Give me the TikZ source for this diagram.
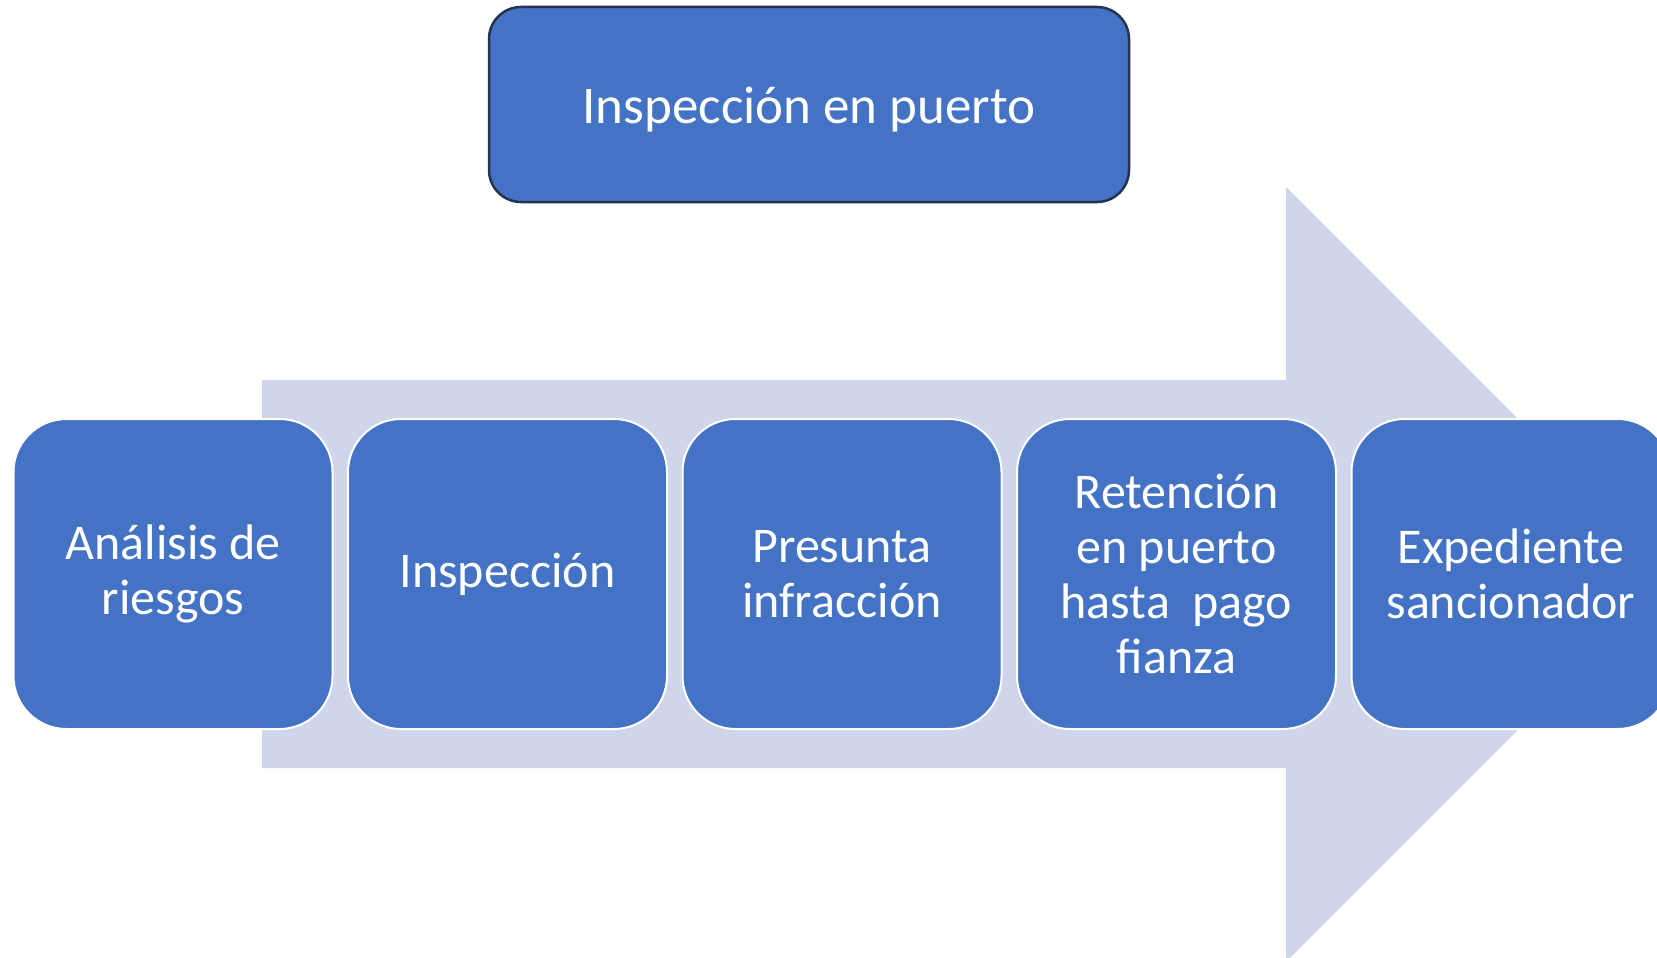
\documentclass[tikz,border=0pt]{standalone}
\usepackage{fontspec}
\setmainfont{Carlito}
\definecolor{boxblue}{HTML}{4472C4}
\definecolor{arrowfill}{HTML}{CFD5EA}
\definecolor{topborder}{HTML}{243352}
\begin{document}
\begin{tikzpicture}[x=1pt,y=-1pt,
  stepbox/.style={rectangle, rounded corners=53pt, fill=boxblue, draw=white, line width=2pt,
    minimum width=319pt, minimum height=310pt, text=white,
    font=\fontsize{50}{55}\selectfont, align=center, inner sep=0pt},
  titlebox/.style={rectangle, rounded corners=32pt, fill=boxblue, draw=topborder, line width=2.5pt,
    minimum width=640pt, minimum height=195pt, text=white,
    font=\fontsize{53}{60}\selectfont, align=center, inner sep=0pt}]
\useasboundingbox (0,0) rectangle (1657,958);
\clip (0,0) rectangle (1657,958);
\fill[arrowfill] (262,380) -- (1286,380) -- (1286,187) -- (1673.4,574.4) -- (1286,961.8) -- (1286,768) -- (262,768) -- cycle;
\node[titlebox] (top) at (809,104.5) {\raisebox{-5pt}[\height][\depth]{Inspección en puerto}};
\node[stepbox] (n1) at (173,574) {Análisis de\\riesgos};
\node[stepbox] (n2) at (507.5,574) {Inspección};
\node[stepbox] (n3) at (842,574) {Presunta\\infracción};
\node[stepbox] (n4) at (1176.5,574) {Retención\\en puerto\\hasta\ \ pago\\fianza};
\node[stepbox] (n5) at (1511,574) {Expediente\\sancionador};
\end{tikzpicture}
\end{document}
